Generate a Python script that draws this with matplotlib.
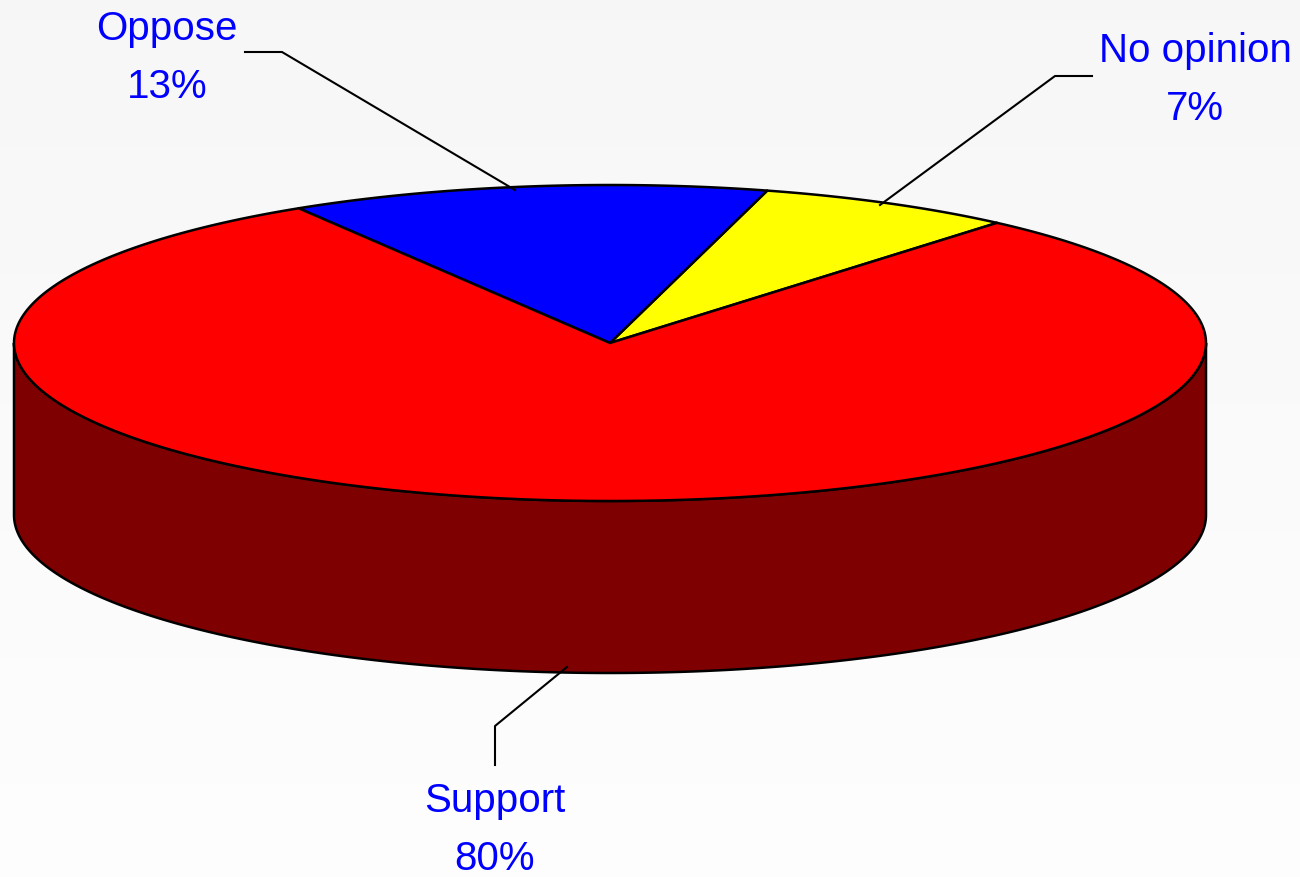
import numpy as np
import matplotlib
matplotlib.use("Agg")
import matplotlib.pyplot as plt
from matplotlib.patches import Polygon

labels = ["No opinion", "Oppose", "Support"]
values = [7, 13, 80]
colors = ["#ffff00", "#0000ff", "#ff0000"]
side_colors = ["#7f7f00", "#00007f", "#7f0000"]
start_angle = 49.5

# geometry of the tilted disc, in pixels
cx, cy = 610, 343
a, b = 596, 158
depth = 172

fig = plt.figure(figsize=[13, 8.77], dpi=100)
ax = fig.add_axes([0, 0, 1, 1])
ax.set_xlim(0, 1300)
ax.set_ylim(877, 0)
ax.axis("off")

# faint grey background, a bit lighter at the bottom
grad = np.linspace(0.968, 0.995, 256).reshape(-1, 1)
ax.imshow(np.dstack([grad, grad, grad]), extent=[0, 1300, 877, 0], aspect="auto", zorder=0)


def ell(t, dy=0):
    t = np.radians(t)
    return np.column_stack([cx + a * np.cos(t), cy - b * np.sin(t) + dy])


bounds = start_angle + 360 * np.concatenate([[0], np.cumsum(values)]) / sum(values)

# side wall: only the front half (180..360 deg) shows
for i in range(len(values)):
    for off in (0, 360):
        s = max(bounds[i] - off, 180)
        e = min(bounds[i + 1] - off, 360)
        if e <= s:
            continue
        t = np.linspace(s, e, 200)
        pts = np.vstack([ell(t), ell(t[::-1], depth)])
        ax.add_patch(Polygon(pts, closed=True, fc=side_colors[i], ec="black", lw=1.8, zorder=2))

# top face wedges
for i in range(len(values)):
    t = np.linspace(bounds[i], bounds[i + 1], 300)
    pts = np.vstack([[cx, cy], ell(t)])
    ax.add_patch(Polygon(pts, closed=True, fc=colors[i], ec="black", lw=1.8, zorder=3, joinstyle="round"))

# leader lines and labels
txt = dict(color="#0000ff", fontsize=29, family="Liberation Sans", ha="center", va="center", linespacing=1.65)
ax.plot([1092, 1055, 880], [76, 76, 205], color="black", lw=1.5, zorder=4)
ax.text(1195, 80, f"{labels[0]}\n{values[0]}%", **txt)
ax.plot([245, 282, 515], [52, 52, 190], color="black", lw=1.5, zorder=4)
ax.text(167, 58, f"{labels[1]}\n{values[1]}%", **txt)
ax.plot([567, 495, 495], [667, 726, 765], color="black", lw=1.5, zorder=4)
ax.text(495, 830, f"{labels[2]}\n{values[2]}%", **txt)

fig.savefig("out.png", dpi=100)
